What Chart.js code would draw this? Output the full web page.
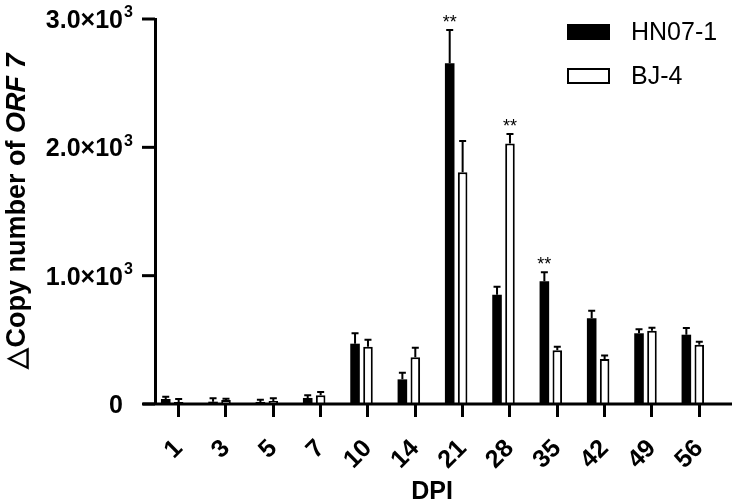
<!DOCTYPE html>
<html>
<head>
<meta charset="utf-8">
<script src="https://cdn.jsdelivr.net/npm/chart.js@4.4.1/dist/chart.umd.min.js"></script>
<style>
  html, body { margin: 0; padding: 0; background: #fff; }
  #wrap { width: 738px; height: 504px; position: relative; }
</style>
</head>
<body>
<div id="wrap"><canvas id="c"></canvas></div>
<script>
const days = ['1', '3', '5', '7', '10', '14', '21', '28', '35', '42', '49', '56'];

const hn07 = [39, 18, 16, 47, 470, 192, 2655, 852, 956, 668, 551, 540];
const hn07Sem = [18, 26, 18, 21, 81, 52, 260, 62, 70, 59, 31, 52];

const bj4 = [16, 31, 23, 68, 447, 364, 1806, 2029, 418, 351, 571, 462];
const bj4Sem = [23, 10, 21, 26, 54, 75, 244, 75, 29, 26, 24, 24];

// [category index, dataset index] that carry a "**"
const stars = [[6, 0], [7, 1], [8, 0]];

const yTicks = [0, 1000, 2000, 3000];
const yTickText = ['0', '1.0\u00D710', '2.0\u00D710', '3.0\u00D710'];

const FONT = 'Liberation Sans, Arial, sans-serif';

const errorBars = {
  id: 'errorBars',
  afterDatasetsDraw(chart) {
    const { ctx, scales: { y } } = chart;
    const sems = [hn07Sem, bj4Sem];
    ctx.save();
    ctx.strokeStyle = '#000';
    ctx.lineWidth = 2;
    [0, 1].forEach(di => {
      const meta = chart.getDatasetMeta(di);
      const vals = chart.data.datasets[di].data;
      meta.data.forEach((bar, i) => {
        const top = y.getPixelForValue(vals[i] + sems[di][i]);
        ctx.beginPath();
        ctx.moveTo(bar.x, bar.y);
        ctx.lineTo(bar.x, top);
        ctx.moveTo(bar.x - 3.5, top);
        ctx.lineTo(bar.x + 3.5, top);
        ctx.stroke();
      });
    });
    ctx.fillStyle = '#000';
    ctx.font = '18px ' + FONT;
    ctx.textAlign = 'center';
    ctx.textBaseline = 'alphabetic';
    stars.forEach(([i, di]) => {
      const bar = chart.getDatasetMeta(di).data[i];
      const v = chart.data.datasets[di].data[i] + (di === 0 ? hn07Sem : bj4Sem)[i];
      ctx.fillText('**', bar.x, y.getPixelForValue(v) - 2);
    });
    ctx.restore();
  }
};

const decorations = {
  id: 'decorations',
  afterDraw(chart) {
    const { ctx, chartArea, scales: { y } } = chart;
    ctx.save();
    ctx.strokeStyle = '#000';
    ctx.fillStyle = '#000';
    ctx.lineWidth = 3;

    // x axis line, running a little past the y axis
    ctx.beginPath();
    ctx.moveTo(143, chartArea.bottom);
    ctx.lineTo(732, chartArea.bottom);
    ctx.stroke();

    // y ticks and labels with superscript exponent
    ctx.textBaseline = 'middle';
    yTicks.forEach((v, k) => {
      const py = y.getPixelForValue(v);
      ctx.beginPath();
      ctx.moveTo(142, py);
      ctx.lineTo(chartArea.left, py);
      ctx.stroke();
      ctx.font = 'bold 25px ' + FONT;
      ctx.textAlign = 'right';
      ctx.fillText(yTickText[k], 123, py + 2);
      if (v !== 0) {
        ctx.font = 'bold 16px ' + FONT;
        ctx.textAlign = 'left';
        ctx.fillText('3', 124, py - 6);
      }
    });

    // x title
    ctx.font = 'bold 25px ' + FONT;
    ctx.textAlign = 'center';
    ctx.fillText('DPI', 432, 492);

    // y title with italic ORF 7
    const parts = [
      ['bold 27px ' + FONT, '\u25B3Copy number of '],
      ['bold italic 27px ' + FONT, 'ORF 7']
    ];
    let total = 0;
    parts.forEach(([f, t]) => { ctx.font = f; total += ctx.measureText(t).width; });
    ctx.translate(18, 211);
    ctx.rotate(-Math.PI / 2);
    ctx.textAlign = 'left';
    let x = -total / 2;
    parts.forEach(([f, t]) => {
      ctx.font = f;
      ctx.fillText(t, x, 0);
      x += ctx.measureText(t).width;
    });
    ctx.restore();

    // legend
    ctx.save();
    ctx.lineWidth = 2;
    ctx.strokeStyle = '#000';
    ctx.fillStyle = '#000';
    ctx.fillRect(567, 24, 43, 16);
    ctx.fillStyle = '#fff';
    ctx.fillRect(568, 69, 41, 14);
    ctx.strokeRect(568, 69, 41, 14);
    ctx.fillStyle = '#000';
    ctx.font = '25px ' + FONT;
    ctx.textAlign = 'left';
    ctx.textBaseline = 'middle';
    ctx.fillText('HN07-1', 631, 33);
    ctx.fillText('BJ-4', 631, 77);
    ctx.restore();
  }
};

new Chart(document.getElementById('c'), {
  type: 'bar',
  data: {
    labels: days,
    datasets: [
      {
        label: 'HN07-1',
        data: hn07,
        backgroundColor: '#000',
        borderColor: '#000',
        borderWidth: 0,
        categoryPercentage: 0.82,
        barPercentage: 0.74
      },
      {
        label: 'BJ-4',
        data: bj4,
        backgroundColor: '#fff',
        borderColor: '#000',
        borderWidth: 2,
        categoryPercentage: 0.82,
        barPercentage: 0.74
      },
      {
        label: 'spacer',
        data: days.map(() => null),
        categoryPercentage: 0.82,
        barPercentage: 0.74
      }
    ]
  },
  options: {
    responsive: true,
    maintainAspectRatio: false,
    animation: false,
    layout: { padding: { top: 19, right: 12, left: 0, bottom: 0 } },
    plugins: {
      legend: { display: false },
      tooltip: { enabled: false }
    },
    scales: {
      x: {
        afterFit: s => { s.height = 100; },
        grid: {
          offset: false,
          drawOnChartArea: false,
          drawTicks: true,
          tickLength: 13,
          lineWidth: 3,
          color: '#000'
        },
        border: { display: false },
        ticks: {
          color: '#000',
          font: { family: FONT, size: 25, weight: 'bold' },
          minRotation: 45,
          maxRotation: 45,
          padding: 17
        }
      },
      y: {
        min: 0,
        max: 3000,
        afterFit: s => { s.width = 155; },
        grid: { display: false },
        border: { display: true, width: 3, color: '#000' },
        ticks: { display: false }
      }
    }
  },
  plugins: [errorBars, decorations]
});
</script>
</body>
</html>
